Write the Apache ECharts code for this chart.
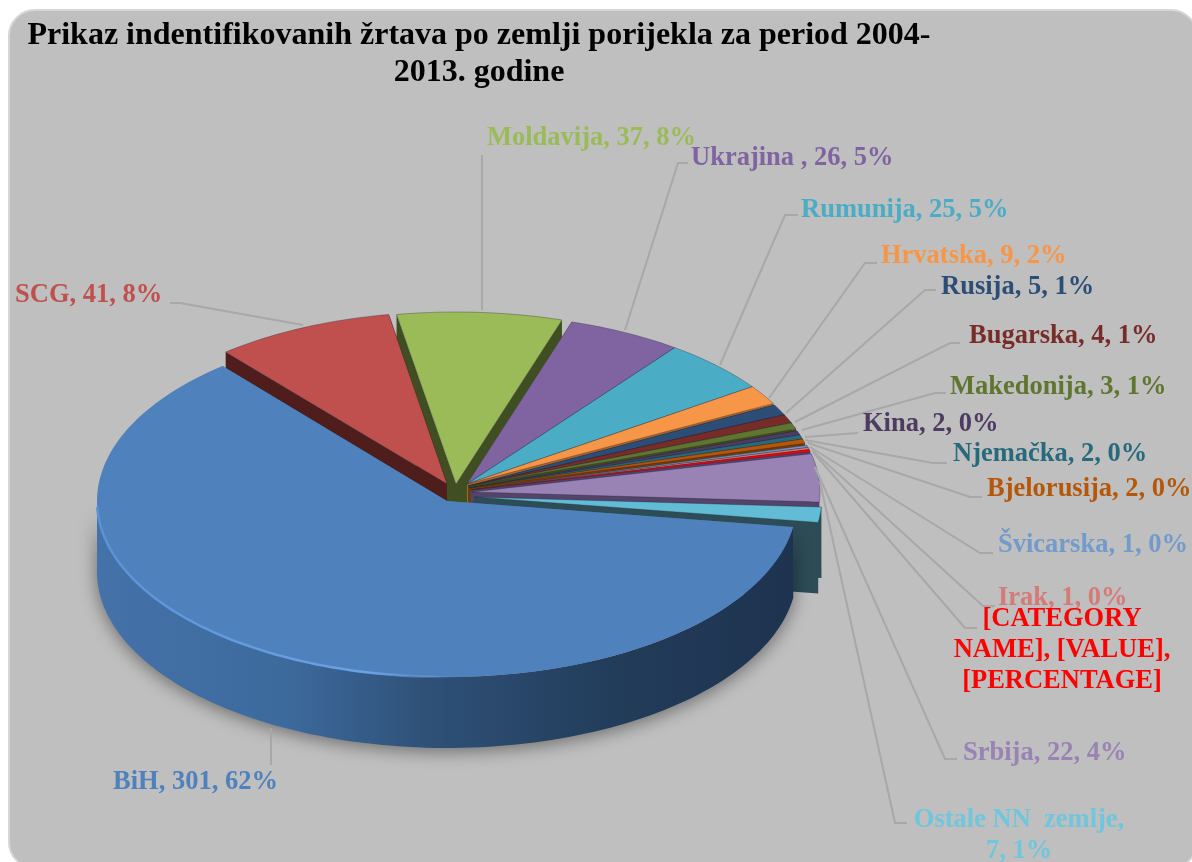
<!DOCTYPE html>
<html><head><meta charset="utf-8">
<style>html,body{margin:0;padding:0;background:#fff}#c{width:1192px;height:862px}</style>
<script src="https://cdn.jsdelivr.net/npm/echarts@6/dist/echarts.min.js"></script>
</head><body><div id="c"></div>
<script>
// ---- data ----
const categories = ['BiH','SCG','Moldavija','Ukrajina ','Rumunija','Hrvatska','Rusija','Bugarska','Makedonija','Kina','Njemačka','Bjelorusija','Švicarska','Irak','[CATEGORY NAME]','Srbija','Ostale NN  zemlje'];
const values = [301,41,37,26,25,9,5,4,3,2,2,2,1,1,1,22,7];
const titleLines = ['Prikaz indentifikovanih žrtava po zemlji porijekla za period 2004-','2013. godine'];
const placeholderLines = ['[CATEGORY','NAME], [VALUE],','[PERCENTAGE]'];

// ---- styling and layout ----
const colors = ['#4f81bd','#c0504d','#9bbb59','#8064a2','#4bacc6','#f79646','#2c4d75','#772c2a','#5f7530','#4d3b62','#276a7c','#b65708','#729aca','#d47b78','#ff0000','#9983b5','#63bcd6'];
const labelColors = ['#4f81bd','#c0504d','#9bbb59','#8064a2','#4bacc6','#f79646','#2c4d75','#772c2a','#5f7530','#4d3b62','#276a7c','#b65708','#729aca','#d47b78','#ff0000','#9983b5','#6fc6dd'];
const sideColors = ['#3a6597','#4f1e1c','#3f4f22','#76923c','#2f5f6c','#a9652a','#1c3350','#4d1c1b','#3e4d1f','#32263f','#194551','#763905','#4a6584','#8a5050','#54436a','#54436a','#2d4c56'];
// slice centre and radii: [cx, cy, rx, ry] (slices are pulled apart in the picture)
const geometry = i => i === 0 ? [447,501,350,176]
  : i === 1 ? [447,484,345,172]
  : i === 2 ? [456,484,352,172]
  : i <= 5  ? [467,484,348,170]
  : i <= 8  ? [468,486,348,171]
  : i <= 11 ? [469,488,348,172]
  : i <= 14 ? [471,490,348,172]
  : i === 15 ? [472,492,348,172]
  : [474,497,348,172];
const startAngle = 8.5, depth = 71;
const drawOrder = [2,1,3,4,5,6,7,8,9,10,11,12,13,14,15,16,0];
const labelLeft = [113,15,487,691,801,881,941,969,950,863,953,987,998,998,1062,963,1019];
const labelMid  = [782,295,138,158,210,256,287,336,387,424,454,489,545,598,650,753,820];
const leaders = [
 [[271,728],[271,765]],
 [[170,303],[180,303],[303,325]],
 [[482,155],[482,310]],
 [[688,163],[678,163],[625,330]],
 [[798,215],[785,215],[720,365]],
 [[877,263],[865,263],[769,398]],
 [[936,290],[925,290],[786,413]],
 [[960,343],[950,343],[795,422]],
 [[946,393],[935,393],[802,430]],
 [[858,433],[805,437]],
 [[947,463],[933,463],[805,440]],
 [[982,497],[970,497],[808,443]],
 [[993,553],[980,553],[810,447]],
 [[995,606],[983,606],[812,450]],
 [[977,628],[965,628],[813,452]],
 [[957,759],[945,759],[815,467]],
 [[907,823],[895,823],[820,482]]
];
const serif = '"Liberation Serif","Times New Roman",serif';
const total = values.reduce((a,b)=>a+b,0);

function arc(g, a1, a2, dy){
  const pts = [], n = Math.max(2, Math.ceil(Math.abs(a2-a1)/1.5));
  for (let k=0;k<=n;k++){
    const t = (a1+(a2-a1)*k/n)*Math.PI/180;
    pts.push([g[0]+g[2]*Math.cos(t), g[1]+g[3]*Math.sin(t)+dy]);
  }
  return pts;
}
function renderSlice(params, api){
  const i = params.dataIndex, v = api.value(0);
  let before = 0; for (let k=0;k<i;k++) before += values[k];
  const a1 = startAngle + before/total*360, a2 = a1 + v/total*360;
  const g = geometry(i), z = drawOrder.indexOf(i)*10 + 10;
  const apex = [g[0],g[1]], apexB = [g[0],g[1]+depth];
  const kids = [];
  const edge = a => arc(g,a,a,0)[0];
  const face = a => { const p = edge(a); return [apex,p,[p[0],p[1]+depth],apexB]; };
  kids.push({type:'polygon',z2:z,shape:{points:face(a1)},style:{fill:sideColors[i]}});
  kids.push({type:'polygon',z2:z,shape:{points:face(a2)},style:{fill:sideColors[i]}});
  // outer wall, front half only
  const f1 = Math.max(a1,0), f2 = Math.min(a2,180);
  if (f2 > f1){
    const wall = arc(g,f1,f2,0).concat(arc(g,f2,f1,depth));
    let fill = sideColors[i];
    if (i === 0) fill = {type:'linear',x:0,y:0,x2:1,y2:0,colorStops:[
      {offset:0,color:'#4472a9'},{offset:.27,color:'#3d6a9d'},{offset:.47,color:'#2f5178'},
      {offset:.75,color:'#223c5a'},{offset:1,color:'#1e3350'}]};
    kids.push({type:'polygon',z2:z+1,shape:{points:wall},style:{fill:fill,
      shadowBlur:(i===0||i===16)?18:0,shadowColor:'rgba(0,0,0,.45)',shadowOffsetX:0,shadowOffsetY:3}});
  }
  // top surface
  kids.push({type:'polygon',z2:z+2,shape:{points:[apex].concat(arc(g,a1,a2,0))},
    style:{fill:colors[i],stroke:i===0?colors[i]:'rgba(30,30,50,.45)',lineWidth:i===0?0:.7}});
  if (i === 0){
    kids.push({type:'polyline',z2:z+3,shape:{points:arc(g,178,88,0)},style:{fill:null,lineWidth:2.5,
      stroke:{type:'linear',x:0,y:0,x2:1,y2:0,colorStops:[{offset:0,color:'#5c92d6'},{offset:.75,color:'#6ba2e4'},{offset:1,color:'rgba(107,162,228,0)'}]}}});
  }
  // leader line
  kids.push({type:'polyline',z2:i===0||i===15||i===16?z+4:5,shape:{points:leaders[i]},style:{fill:null,stroke:'#a8a8a8',lineWidth:2}});
  // label
  const font = 'bold 26.5px '+serif;
  if (i === 14){
    placeholderLines.forEach((t,k)=>kids.push({type:'text',z2:500,style:{text:t,x:labelLeft[i],y:labelMid[i]+(k-1)*31,fill:labelColors[i],font:font,textAlign:'center',textVerticalAlign:'middle'}}));
  } else if (i === 16){
    [categories[i]+',', v+', '+Math.round(v/total*100)+'%'].forEach((t,k)=>kids.push({type:'text',z2:500,style:{text:t,x:labelLeft[i],y:labelMid[i]+k*31,fill:labelColors[i],font:font,textAlign:'center',textVerticalAlign:'middle'}}));
  } else {
    kids.push({type:'text',z2:500,style:{text:categories[i]+', '+v+', '+Math.round(v/total*100)+'%',x:labelLeft[i],y:labelMid[i],fill:labelColors[i],font:font,textAlign:'left',textVerticalAlign:'middle'}});
  }
  return {type:'group',children:kids};
}
const chart = echarts.init(document.getElementById('c'),null,{renderer:'canvas'});
chart.setOption({
  animation:false,
  backgroundColor:'#ffffff',
  title:{text:titleLines.join('\n'),left:474,top:12,textAlign:'center',
    textStyle:{fontFamily:serif,fontWeight:'bold',fontSize:32,lineHeight:37,color:'#000'}},
  graphic:[{type:'rect',z:-10,left:8,top:9,shape:{width:1188,height:858,r:26},
    style:{fill:'#bfbfbf',stroke:'#d6d6d6',lineWidth:2}}],
  series:[{type:'custom',coordinateSystem:'none',silent:true,clip:false,renderItem:renderSlice,
    data:values.map(v=>[v])}]
});
</script></body></html>
